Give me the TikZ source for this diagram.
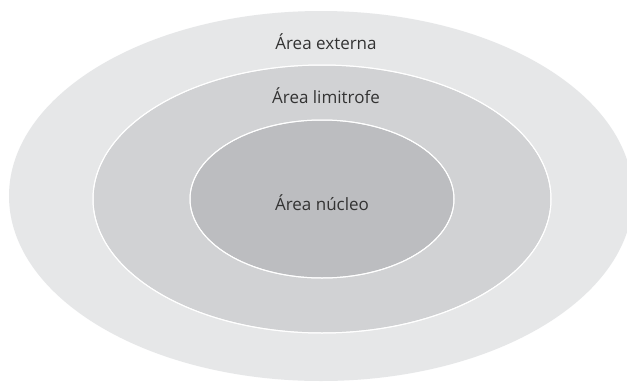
\documentclass[tikz,border=0pt]{standalone}
\usepackage{fontspec}
\setmainfont{Open Sans}
\begin{document}
\begin{tikzpicture}[x=1pt,y=-1pt,
  zone/.style={draw=white,line width=1pt},
  lbl/.style={text=black!80,font=\fontsize{17}{20}\selectfont,inner sep=0pt}]
\useasboundingbox (0,0) rectangle (627,381);
\clip (0,0) rectangle (627,381);
\fill[white] (0,0) rectangle (627,381);
\fill[fill={rgb,255:red,230;green,231;blue,232}] (321,196) ellipse [x radius=312, y radius=185];
\fill[zone,fill={rgb,255:red,209;green,210;blue,212}] (322,199) ellipse [x radius=229, y radius=134];
\fill[zone,fill={rgb,255:red,188;green,189;blue,192}] (322,199) ellipse [x radius=132, y radius=79];
\draw[zone] (322,199) ellipse [x radius=229, y radius=134];
\draw[zone] (322,199) ellipse [x radius=132, y radius=79];
\node[lbl] (ext) at (326,42) {Área externa};
\node[lbl] (lim) at (326,96) {Área limitrofe};
\node[lbl] (nuc) at (322,203) {Área núcleo};
\end{tikzpicture}
\end{document}
